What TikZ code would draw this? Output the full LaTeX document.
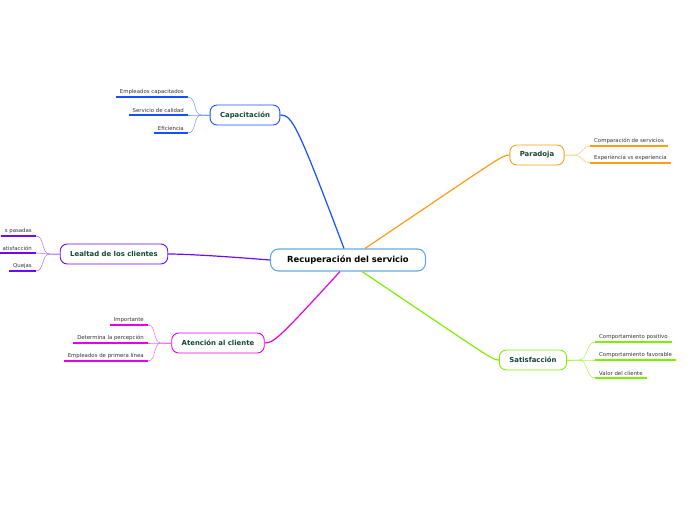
\documentclass[tikz,border=0pt]{standalone}
\usepackage{fontspec}
\setmainfont{DejaVu Sans}
\usepackage{xcolor}
\usetikzlibrary{arrows.meta}
\definecolor{centroborde}{RGB}{100,170,225}
\definecolor{azul}{RGB}{20,80,255}
\definecolor{naranja}{RGB}{255,155,20}
\definecolor{morado}{RGB}{110,10,250}
\definecolor{magenta}{RGB}{230,0,230}
\definecolor{verde}{RGB}{125,240,0}
\definecolor{temotexto}{RGB}{20,70,55}

\begin{document}
\begin{tikzpicture}[x=1pt, y=-1pt,
    tema/.style={draw, rounded corners=7pt, fill=white, line width=0.9pt,
        minimum height=20pt, inner xsep=10pt,
        font=\fontsize{6.9}{8}\selectfont\bfseries, text=temotexto},
    subtema/.style={inner xsep=4pt, inner ysep=2.5pt,
        font=\fontsize{5.4}{6}\selectfont, text=black!80},
    rama/.style={line width=0.5pt},
    raya/.style={line width=1.2pt},
    tronco/.style={line width=1.2pt}]
    \useasboundingbox (0,0) rectangle (697,520);
    % tema central
    \node [draw=centroborde, rounded corners=8pt, line width=1.1pt, fill=white,
        minimum width=155pt, minimum height=22pt,
        font=\fontsize{8.4}{9}\selectfont\bfseries] (centro) at (348,260) {Recuperación del servicio};
    % temas principales
    \node [tema, draw=azul] (cap) at (245,115) {Capacitación};
    \node [tema, draw=naranja] (para) at (537,155) {Paradoja};
    \node [tema, draw=morado] (leal) at (114,254) {Lealtad de los clientes};
    \node [tema, draw=magenta] (aten) at (218,343) {Atención al cliente};
    \node [tema, draw=verde] (sati) at (533,360) {Satisfacción};
    % troncos
    \draw [tronco, azul] ([xshift=-4pt]centro.north) .. controls (297,124) and (292,115) .. (cap.east);
    \draw [tronco, naranja] ([xshift=17pt]centro.north) .. controls (498,159) and (502,155) .. (para.west);
    \draw [tronco, morado] (centro.west) .. controls (220,256) and (185,254) .. (leal.east);
    \draw [tronco, magenta] ([xshift=-8pt]centro.south) .. controls (280,337) and (274,343) .. (aten.east);
    \draw [tronco, verde] ([xshift=14pt]centro.south) .. controls (488,356) and (492,360) .. (sati.west);
    % subtemas de Capacitación
    \node [subtema, anchor=south east] (c1) at (188,97) {Empleados capacitados};
    \node [subtema, anchor=south east] (c2) at (188,115) {Servicio de calidad};
    \node [subtema, anchor=south east] (c3) at (188,133) {Eficiencia};
    \foreach \n in {c1,c2,c3} {
        \draw [rama, azul!60] (cap.west) -- ++(-8,0) to[out=180,in=0] (\n.south east);
        \draw [raya, azul] (\n.south west) -- (\n.south east);
    }
    % subtemas de Paradoja
    \node [subtema, anchor=south west] (p1) at (590,146) {Comparación de servicios};
    \node [subtema, anchor=south west] (p2) at (590,163) {Experiencia vs experiencia};
    \foreach \n in {p1,p2} {
        \draw [rama, naranja!60] (para.east) -- ++(10,0) to[out=0,in=180] (\n.south west);
        \draw [raya, naranja] (\n.south west) -- (\n.south east);
    }
    % subtemas de Lealtad
    \node [subtema, anchor=south east] (l1) at (36,236) {s pasadas};
    \node [subtema, anchor=south east] (l2) at (36,253) {atisfacción};
    \node [subtema, anchor=south east] (l3) at (36,271) {Quejas};
    \foreach \n in {l1,l2,l3} {
        \draw [rama, morado!60] (leal.west) -- ++(-10,0) to[out=180,in=0] (\n.south east);
        \draw [raya, morado] (\n.south west) -- (\n.south east);
    }
    % subtemas de Atención
    \node [subtema, anchor=south east] (a1) at (148,325) {Importante};
    \node [subtema, anchor=south east] (a2) at (148,343) {Determina la percepción};
    \node [subtema, anchor=south east] (a3) at (148,361) {Empleados de primera línea};
    \foreach \n in {a1,a2,a3} {
        \draw [rama, magenta!60] (aten.west) -- ++(-10,0) to[out=180,in=0] (\n.south east);
        \draw [raya, magenta] (\n.south west) -- (\n.south east);
    }
    % subtemas de Satisfacción
    \node [subtema, anchor=south west] (s1) at (595,342) {Comportamiento positivo};
    \node [subtema, anchor=south west] (s2) at (595,360) {Comportamiento favorable};
    \node [subtema, anchor=south west] (s3) at (595,378) {Valor del cliente};
    \foreach \n in {s1,s2,s3} {
        \draw [rama, verde!70] (sati.east) -- ++(12,0) to[out=0,in=180] (\n.south west);
        \draw [raya, verde] (\n.south west) -- (\n.south east);
    }
\end{tikzpicture}
\end{document}
